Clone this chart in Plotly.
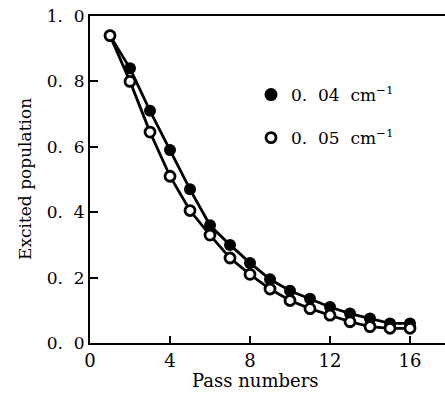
import plotly.graph_objects as go

passes = list(range(1, 17))
pop_004 = [0.94, 0.84, 0.71, 0.59, 0.47, 0.36, 0.30, 0.245, 0.195, 0.16, 0.135, 0.11, 0.09, 0.075, 0.06, 0.06]
pop_005 = [0.94, 0.80, 0.645, 0.51, 0.405, 0.33, 0.26, 0.21, 0.165, 0.13, 0.105, 0.085, 0.065, 0.05, 0.045, 0.045]
NB = "\u00a0"
series_names = ["0." + NB + NB + "04" + NB + NB + "cm<sup>−1</sup>",
                "0." + NB + NB + "05" + NB + NB + "cm<sup>−1</sup>"]
x_ticks = [0, 4, 8, 12, 16]
x_ticktext = ["0", "4", "8", "12", "16"]
y_ticks = [0.0, 0.2, 0.4, 0.6, 0.8, 1.0]
y_ticktext = ["0." + NB + NB + "0", "0." + NB + NB + "2", "0." + NB + NB + "4",
              "0." + NB + NB + "6", "0." + NB + NB + "8", "1." + NB + NB + "0"]

FONT = "DejaVu Serif"

fig = go.Figure()
fig.add_trace(go.Scatter(
    x=passes, y=pop_004, mode="lines+markers", showlegend=False,
    line=dict(color="black", width=2.8),
    marker=dict(symbol="circle", size=12, color="black"),
))
fig.add_trace(go.Scatter(
    x=passes, y=pop_005, mode="lines+markers", showlegend=False,
    line=dict(color="black", width=2.8),
    marker=dict(symbol="circle", size=10, color="white", line=dict(color="black", width=2.8)),
))
# legend entries (markers only)
fig.add_trace(go.Scatter(
    x=[None], y=[None], mode="markers", name=series_names[0], legendgroup="a",
    marker=dict(symbol="circle", size=13, color="black"),
))
fig.add_trace(go.Scatter(
    x=[None], y=[None], mode="markers", name=series_names[1], legendgroup="b",
    marker=dict(symbol="circle", size=10, color="white", line=dict(color="black", width=2.8)),
))

fig.update_layout(
    width=445, height=394,
    margin=dict(l=90, r=0, t=16, b=51),
    paper_bgcolor="white", plot_bgcolor="white",
    font=dict(family=FONT, size=16, color="black"),
    showlegend=True,
    legend=dict(
        x=(251 - 90) / 355, y=(343 - 77) / 327, xanchor="left", yanchor="top",
        bgcolor="rgba(0,0,0,0)", borderwidth=0,
        font=dict(family=FONT, size=17, color="black"),
        tracegroupgap=18, itemwidth=30,
    ),
    xaxis=dict(
        range=[0, 17.75], tickvals=x_ticks, ticktext=x_ticktext,
        ticks="inside", ticklen=7, tickwidth=2, tickcolor="black",
        showline=True, linecolor="black", linewidth=2, mirror=True,
        showgrid=False, zeroline=False,
        tickfont=dict(family=FONT, size=18, color="black"),
    ),
    yaxis=dict(
        range=[0, 1.0], tickvals=y_ticks, ticktext=y_ticktext,
        ticks="inside", ticklen=8, tickwidth=2, tickcolor="black",
        showline=True, linecolor="black", linewidth=2,
        showgrid=False, zeroline=False,
        tickfont=dict(family=FONT, size=17, color="black"),
    ),
    annotations=[
        dict(text="Pass numbers", xref="paper", yref="paper",
             x=(255 - 90) / 355, y=(343 - 380) / 327, showarrow=False,
             xanchor="center", yanchor="middle",
             font=dict(family=FONT, size=18, color="black")),
        dict(text="Excited population", xref="paper", yref="paper",
             x=(25 - 90) / 355, y=(343 - 179) / 327, showarrow=False,
             textangle=-90, xanchor="center", yanchor="middle",
             font=dict(family=FONT, size=17, color="black")),
    ],
)

fig.write_html("out.html")
